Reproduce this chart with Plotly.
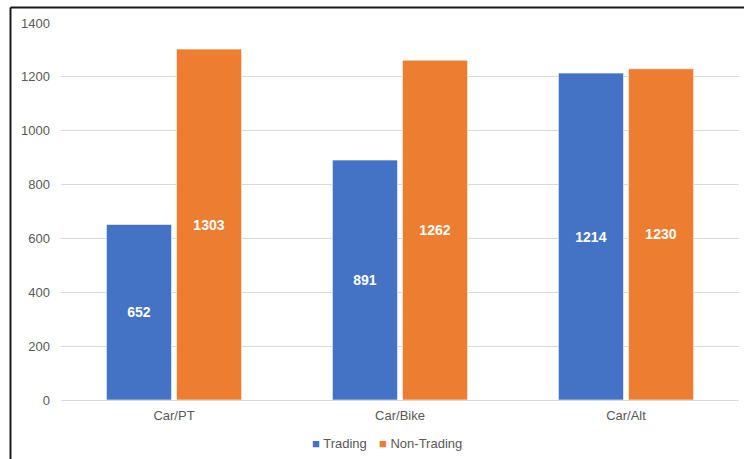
import plotly.graph_objects as go

categories = ["Car/PT", "Car/Bike", "Car/Alt"]
trading = [652, 891, 1214]
non_trading = [1303, 1262, 1230]
y_ticks = [0, 200, 400, 600, 800, 1000, 1200, 1400]
series_names = ["Trading", "Non-Trading"]

blue = "#4472C4"
orange = "#ED7D31"
font_fam = "Liberation Sans, Arial, sans-serif"

fig = go.Figure()
for name, vals, col in [(series_names[0], trading, blue), (series_names[1], non_trading, orange)]:
    fig.add_trace(go.Bar(
        x=categories, y=vals, name=name,
        marker=dict(color=col, line=dict(color="rgba(255,255,255,0.6)", width=1)),
        text=[str(v) for v in vals], textposition="inside", insidetextanchor="middle",
        textfont=dict(color="white", size=14, family=font_fam, weight="bold"),
        textangle=0, showlegend=False,
    ))

L, R, T, B = 61, 5, 23, 59
W, H = 744, 459
pw, ph = W - L - R, H - T - B

legend_y = (400 - 443) / ph
fig.add_annotation(xref="paper", yref="paper", x=(310 - L) / pw, y=legend_y, xanchor="left", yanchor="middle",
                   showarrow=False, text=f"<span style='color:{blue}'>■</span> {series_names[0]}",
                   font=dict(size=13, color="#595959", family=font_fam))
fig.add_annotation(xref="paper", yref="paper", x=(377 - L) / pw, y=legend_y, xanchor="left", yanchor="middle",
                   showarrow=False, text=f"<span style='color:{orange}'>■</span> {series_names[1]}",
                   font=dict(size=13, color="#595959", family=font_fam))

fig.update_layout(
    width=W, height=H,
    margin=dict(l=L, r=R, t=T, b=B),
    paper_bgcolor="white", plot_bgcolor="white",
    barmode="group", bargap=0.38, bargroupgap=0.07,
    font=dict(family=font_fam, size=13, color="#595959"),
    showlegend=False,
    xaxis=dict(showgrid=False, showline=False, ticks="", ticklabelstandoff=6,
               tickfont=dict(size=13, color="#595959")),
    yaxis=dict(range=[0, 1400], tickvals=y_ticks, showgrid=True, gridcolor="#D9D9D9", gridwidth=1,
               zeroline=True, zerolinecolor="#D9D9D9", zerolinewidth=1,
               ticklabelstandoff=10, tickfont=dict(size=13, color="#595959")),
    shapes=[
        dict(type="line", xref="paper", yref="paper",
             x0=(10.5 - L) / pw, x1=(W + 5 - L) / pw,
             y0=1 + (T - 7.5) / ph, y1=1 + (T - 7.5) / ph,
             line=dict(color="#1a1a1a", width=2)),
        dict(type="line", xref="paper", yref="paper",
             x0=(10.5 - L) / pw, x1=(10.5 - L) / pw,
             y0=1 + (T - 7.5) / ph, y1=-(B + 5) / ph,
             line=dict(color="#1a1a1a", width=2)),
    ],
)

fig.write_html("out.html")
